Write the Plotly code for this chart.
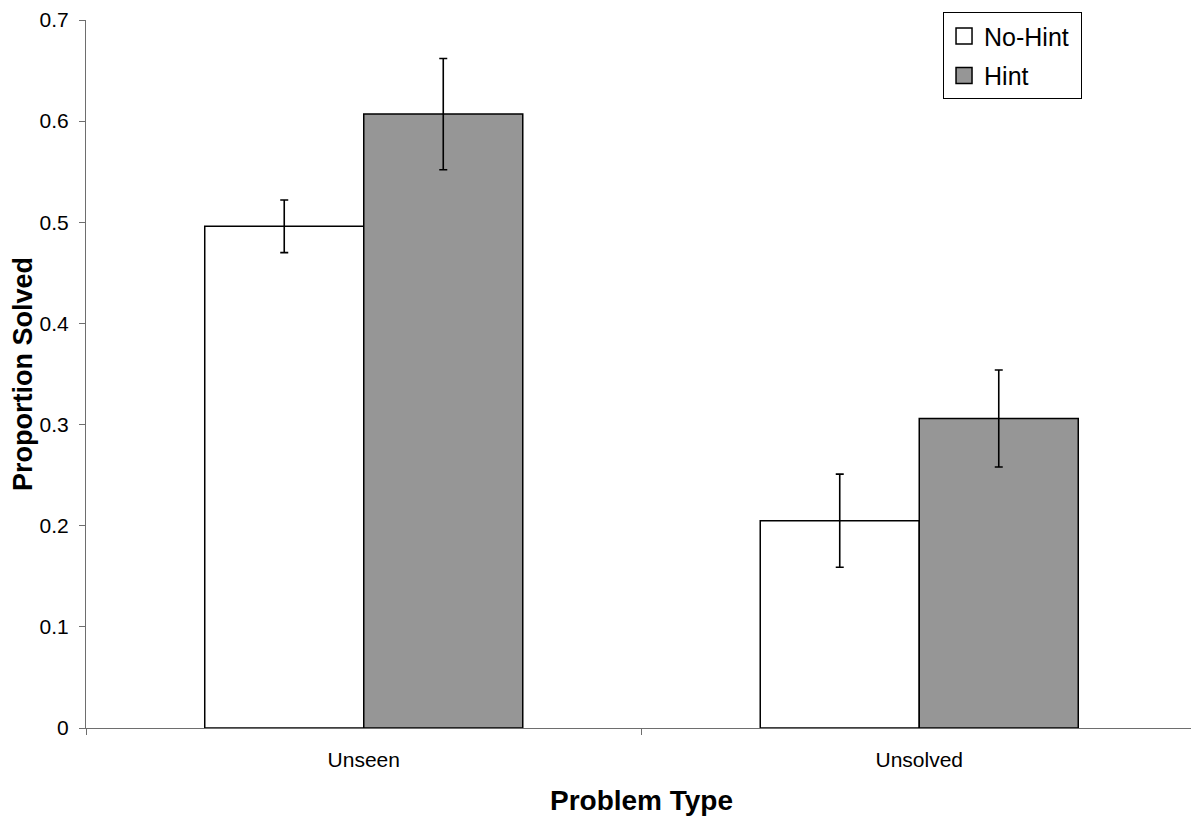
import plotly.graph_objects as go

categories = ["Unseen", "Unsolved"]
series_names = ["No-Hint", "Hint"]
no_hint = [0.496, 0.205]
no_hint_err = [0.026, 0.046]
hint = [0.607, 0.306]
hint_err = [0.055, 0.048]
fill_colors = ["#ffffff", "#969696"]
y_tick_vals = [0, 0.1, 0.2, 0.3, 0.4, 0.5, 0.6, 0.7]
y_tick_text = ["0", "0.1", "0.2", "0.3", "0.4", "0.5", "0.6", "0.7"]

FONT = "Liberation Sans, Arial, sans-serif"
AXIS_GREY = "#6e6e6e"

fig = go.Figure()
for name, vals, errs, col in zip(series_names, [no_hint, hint], [no_hint_err, hint_err], fill_colors):
    fig.add_trace(go.Bar(
        x=categories, y=vals, name=name, showlegend=False,
        marker=dict(color=col, line=dict(color="#000000", width=1.5)),
        error_y=dict(type="data", array=errs, visible=True, color="#000000",
                     thickness=1.6, width=4),
    ))
    # legend proxy
    fig.add_trace(go.Scatter(
        x=[None], y=[None], mode="markers", name=name + "&nbsp;", legendgroup=name,
        marker=dict(symbol="square", size=16, color=col,
                    line=dict(color="#000000", width=1.5)),
    ))

# the page body adds an 8px offset, so the figure is 8px smaller and margins compensate
fig.update_layout(
    width=1191, height=811,
    margin=dict(l=78, r=2, t=12, b=91, pad=0, autoexpand=False),
    paper_bgcolor="#ffffff", plot_bgcolor="#ffffff",
    barmode="group", bargap=0.4275, bargroupgap=0,
    font=dict(family=FONT, color="#000000", size=21),
    legend=dict(
        x=0.7714, y=1.011, xanchor="left", yanchor="top",
        bordercolor="#000000", borderwidth=1, bgcolor="#ffffff",
        font=dict(family=FONT, size=25, color="#000000"),
        tracegroupgap=4,
    ),
    showlegend=True,
)
fig.update_xaxes(
    type="category", showline=True, linecolor=AXIS_GREY, linewidth=1.2,
    ticks="outside", tickson="boundaries", ticklen=6, tickcolor=AXIS_GREY,
    tickwidth=1.2, showgrid=False, zeroline=False,
    tickfont=dict(family=FONT, size=21, color="#000000"), ticklabelstandoff=13,
    ticklabeloverflow="allow",
    title=dict(text="<b>Problem Type</b>", font=dict(family=FONT, size=28, color="#000000"),
               standoff=20),
)
fig.update_yaxes(
    range=[0, 0.7], tickvals=y_tick_vals, ticktext=y_tick_text,
    showline=True, linecolor=AXIS_GREY, linewidth=1.2,
    ticks="outside", ticklen=6, tickcolor=AXIS_GREY, tickwidth=1.2,
    showgrid=False, zeroline=False,
    tickfont=dict(family=FONT, size=21, color="#000000"), ticklabelstandoff=6,
    ticklabeloverflow="allow",
    title=dict(text="<b>Proportion Solved</b>", font=dict(family=FONT, size=27, color="#000000"),
               standoff=3),
)

fig.write_html("out.html")
